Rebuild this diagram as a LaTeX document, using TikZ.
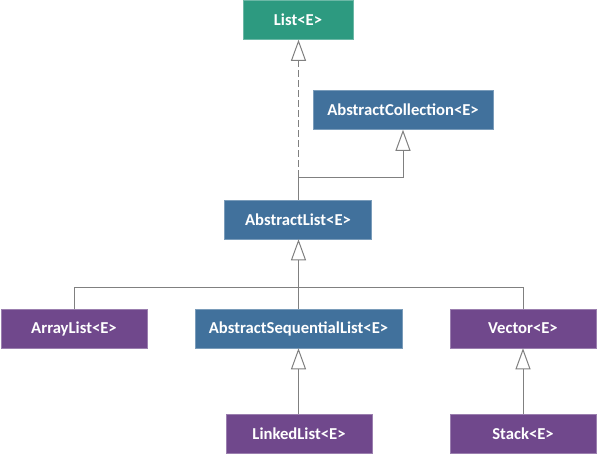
\documentclass[tikz,border=0pt]{standalone}
\usepackage{fontspec}
\setmainfont{Carlito}
\usetikzlibrary{arrows.meta}
\definecolor{ifacegreen}{RGB}{45,154,128}
\definecolor{absblue}{RGB}{65,113,156}
\definecolor{clspurple}{RGB}{112,72,140}
\definecolor{linkgray}{RGB}{128,128,128}
\begin{document}
\begin{tikzpicture}[x=0.75pt,y=-0.75pt,
        box/.style={rectangle,minimum height=29.25pt,inner sep=0,anchor=center,
            text=white,font=\bfseries\fontsize{12.5}{14}\selectfont},
        iface/.style={box,fill=ifacegreen,draw=ifacegreen!70!white,minimum width=82.5pt},
        absclass/.style={box,fill=absblue,draw=absblue!70!white},
        cls/.style={box,fill=clspurple,draw=clspurple!70!white,minimum width=109.5pt},
        link/.style={draw=linkgray,line width=0.75pt},
        inherit/.style={link,-{Triangle[open,length=15.75pt,width=11.25pt,fill=white]}}]
    \useasboundingbox (0,0) rectangle (597,455);
    \node[iface] (list) at (298,20) {List<E>};
    \node[absclass,minimum width=135pt] (abscoll) at (403,110) {AbstractCollection<E>};
    \node[absclass,minimum width=110.25pt] (abslist) at (298,219.5) {AbstractList<E>};
    \node[cls] (arraylist) at (74,328.5) {ArrayList<E>};
    \node[absclass,minimum width=155.25pt] (absseq) at (298.5,328.5) {AbstractSequentialList<E>};
    \node[cls] (vector) at (523,328.5) {Vector<E>};
    \node[cls] (linkedlist) at (299,433.5) {LinkedList<E>};
    \node[cls] (stack) at (523,433.5) {Stack<E>};
    \coordinate (jtop) at (298.5,177);
    \coordinate (jbus) at (298.5,287.5);
    % implements List
    \draw[link] (abslist.north -| jtop) -- (jtop);
    \draw[inherit,dash pattern=on 5pt off 2.5pt] (jtop) -- (list.south -| jtop);
    % extends AbstractCollection
    \draw[inherit] (jtop) -| (abscoll.south);
    % extends AbstractList
    \draw[inherit] (absseq.north -| jbus) -- (abslist.south -| jbus);
    \draw[link] (arraylist.north) |- (jbus) -| (vector.north);
    \draw[inherit] (linkedlist.north -| jbus) -- (absseq.south -| jbus);
    \draw[inherit] (stack.north) -- (vector.south);
\end{tikzpicture}
\end{document}
